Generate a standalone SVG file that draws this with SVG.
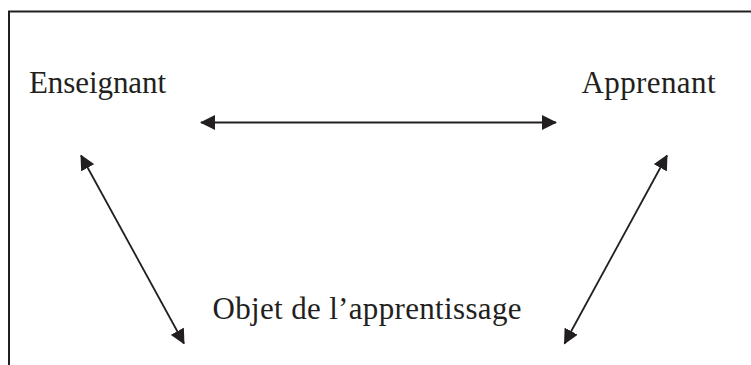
<svg xmlns="http://www.w3.org/2000/svg" width="751" height="365" viewBox="0 0 751 365">
<style>
.t{font-family:"Liberation Serif","Times New Roman",serif;font-size:31px;fill:#231f20}
.c{stroke:#231f20;stroke-width:1.8;fill:none}
.f{stroke:#231f20;stroke-width:2;fill:none}
</style>
<defs>
<marker id="ah" viewBox="0 0 15 15" refX="14" refY="7.5" markerWidth="15" markerHeight="15" markerUnits="userSpaceOnUse" orient="auto-start-reverse">
<path d="M0,0 L15,7.5 L0,15 z" fill="#231f20"/>
</marker>
</defs>
<path class="f" d="M9,365 V11.5 H751"/>
<g id="enseignant"><text class="t" x="29" y="93" textLength="137" lengthAdjust="spacing">Enseignant</text></g>
<g id="apprenant"><text class="t" x="581.5" y="93" textLength="134" lengthAdjust="spacing">Apprenant</text></g>
<g id="objet"><text class="t" x="212.5" y="319" textLength="309" lengthAdjust="spacing">Objet de l’apprentissage</text></g>
<g id="connectors">
<line class="c" x1="201" y1="122.5" x2="556" y2="122.5" marker-start="url(#ah)" marker-end="url(#ah)"/>
<line class="c" x1="81" y1="155.5" x2="184" y2="343.5" marker-start="url(#ah)" marker-end="url(#ah)"/>
<line class="c" x1="667" y1="155.5" x2="564.5" y2="343.5" marker-start="url(#ah)" marker-end="url(#ah)"/>
</g>
</svg>
